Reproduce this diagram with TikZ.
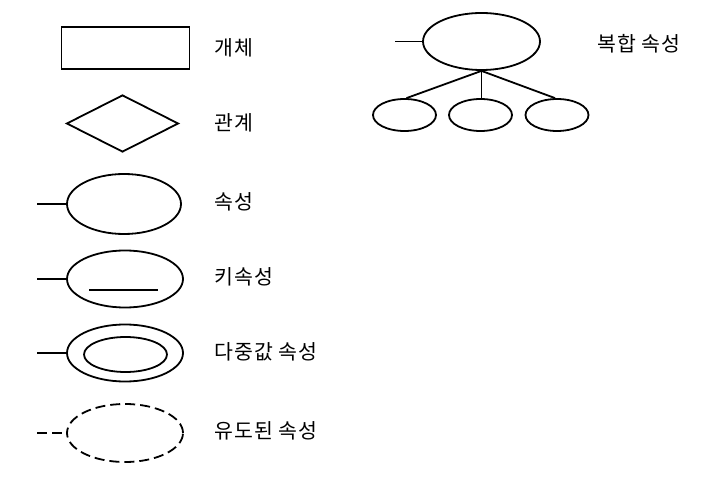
\documentclass[tikz,border=0pt]{standalone}
\usepackage{fontspec}
\newfontfamily\krfont[LetterSpace=4]{Noto Sans CJK KR}
\usepackage{tikz}
\usetikzlibrary{shapes.geometric, positioning, calc}

\begin{document}
\begin{tikzpicture}[
    x=1pt, y=-1pt, line width=1.8pt,
    ent/.style={draw, rectangle, minimum width=128pt, minimum height=42pt, inner sep=0pt},
    rel/.style={draw, diamond, minimum width=112pt, minimum height=57pt, inner sep=0pt, aspect=2},
    attr/.style={draw, ellipse, minimum width=116pt, minimum height=57pt, inner sep=0pt},
    subattr/.style={draw, ellipse, minimum width=63pt, minimum height=32pt, inner sep=0pt},
    lbl/.style={right, inner sep=0pt, font=\krfont\fontsize{20.5}{24}\selectfont},
    derived/.style={dash pattern=on 10pt off 5pt}
]
    \useasboundingbox (0,0) rectangle (712,486);

    % Legend items
    \node[ent] (entity) at (125.5,48) {};
    \node[lbl] (entitytxt) at (214,48) {개체};

    \node[rel] (relation) at (122.5,123.5) {};
    \node[lbl] (relationtxt) at (214,123) {관계};

    \node[attr, minimum width=114pt, minimum height=60pt] (attrib) at (124,204) {};
    \coordinate (attribend) at (37,204);
    \draw (attribend) -- (attrib.west);
    \node[lbl] (attribtxt) at (214,202) {속성};

    \node[attr] (keyattr) at (125,279) {};
    \coordinate (keyend) at (37,279);
    \draw (keyend) -- (keyattr.west);
    \coordinate (keyul) at (89,290);
    \draw (keyul) -- ++(69,0);
    \node[lbl] (keytxt) at (214,277) {키속성};

    \node[attr] (multi) at (125,353) {};
    \node[draw, ellipse, minimum width=83pt, minimum height=35pt, inner sep=0pt] (multiin) at (125.5,354.5) {};
    \coordinate (multiend) at (37,353);
    \draw (multiend) -- (multi.west);
    \node[lbl] (multitxt) at (214,352) {다중값 속성};

    \node[attr, derived, minimum height=58pt] (deriv) at (125,433) {};
    \coordinate (derivend) at (37,433);
    \draw[derived] (derivend) -- (deriv.west);
    \node[lbl] (derivtxt) at (214,431) {유도된 속성};

    % Composite attribute
    \node[attr, minimum width=117pt] (comp) at (481.5,41.5) {};
    \coordinate (compend) at (395,41.5);
    \draw (compend) -- (comp.west);
    \node[subattr] (compa) at (404.5,115) {};
    \node[subattr] (compb) at (480.5,115) {};
    \node[subattr] (compc) at (557,115) {};
    \draw (comp.south) -- ($(compa.north)+(2,0)$);
    \draw (comp.south) -- (compb.north -| comp.south);
    \draw (comp.south) -- ($(compc.north)+(-2,0)$);
    \node[lbl] (comptxt) at (597,44) {복합 속성};
\end{tikzpicture}
\end{document}
